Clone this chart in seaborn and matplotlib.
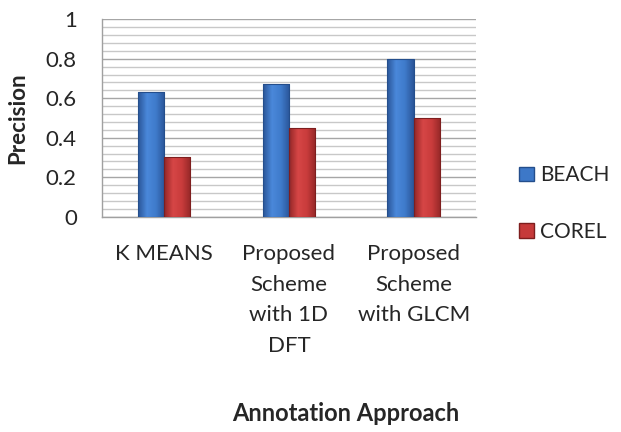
import pandas as pd
import numpy as np
import matplotlib
matplotlib.use("Agg")
import matplotlib.pyplot as plt
import seaborn as sns
from matplotlib.patches import Patch
from matplotlib.colors import LinearSegmentedColormap
from matplotlib.ticker import MultipleLocator

# Chart data
approaches = ["K MEANS", "Proposed\nScheme\nwith 1D\nDFT", "Proposed\nScheme\nwith GLCM"]
beach = [0.63, 0.67, 0.80]
corel = [0.30, 0.45, 0.50]
series = ["BEACH", "COREL"]
yticks = [0, 0.2, 0.4, 0.6, 0.8, 1]
ytick_labels = ["0", "0.2", "0.4", "0.6", "0.8", "1"]
colors = {"BEACH": "#3D78C8", "COREL": "#C63A3A"}
edges = {"BEACH": "#244E8C", "COREL": "#7E1E1E"}
# excel-ish shading across each bar: dark edge -> light middle -> dark edge
shades = {"BEACH": ["#2A5598", "#4A88DA", "#3F7BCB", "#2A5598"],
          "COREL": ["#942727", "#D64646", "#C93C3C", "#942727"]}

df = pd.DataFrame({
    "approach": approaches * 2,
    "precision": beach + corel,
    "dataset": ["BEACH"] * 3 + ["COREL"] * 3,
})

sns.set_style("white")
plt.rcParams['font.family'] = ['Lato', 'DejaVu Sans']

fig = plt.figure(figsize=(6.21, 4.32), dpi=100)
ax = fig.add_axes([0.164, 0.4984, 0.6025, 0.4569])

sns.barplot(data=df, x="approach", y="precision", hue="dataset",
            palette=colors, saturation=1, width=0.42, ax=ax, legend=False, zorder=3)

grad = np.linspace(0, 1, 64).reshape(1, -1)
for cont, s in zip(ax.containers, series):
    cmap = LinearSegmentedColormap.from_list(s, shades[s])
    for bar in cont:
        bar.set_edgecolor(edges[s])
        bar.set_linewidth(0.8)
        x0, w, h = bar.get_x(), bar.get_width(), bar.get_height()
        im = ax.imshow(grad, cmap=cmap, extent=[x0, x0 + w, 0, h],
                       aspect="auto", zorder=3.2, interpolation="bilinear")
        im.set_clip_path(bar)
        bar.set_zorder(3.4)
        bar.set_facecolor("none")

ax.set_ylim(0, 1)
ax.set_xlim(-0.5, 2.5)
ax.set_yticks(yticks, ytick_labels)
ax.yaxis.set_minor_locator(MultipleLocator(0.04))
ax.grid(axis="y", which="minor", color="#C8C8C8", linewidth=1.0, zorder=0)
ax.grid(axis="y", which="major", color="#A6A6A6", linewidth=1.0, zorder=0)
ax.set_axisbelow(True)

for side in ["top", "right"]:
    ax.spines[side].set_visible(False)
ax.spines["left"].set_color("#A0A0A0")
ax.spines["bottom"].set_color("#A0A0A0")
ax.spines["left"].set_linewidth(1.0)
ax.spines["bottom"].set_linewidth(1.0)

ax.tick_params(axis="y", which="major", length=6, width=1.0, color="#A0A0A0",
               direction="out", pad=12, labelsize=16)
ax.tick_params(axis="y", which="minor", length=0)
ax.tick_params(axis="x", length=0, pad=20, labelsize=16)
ax.set_xticks(range(len(approaches)))
ax.set_xticklabels(approaches, linespacing=1.65)

ax.set_xlabel("")
ax.set_ylabel("")
fig.text(0.029, 0.727, "Precision", rotation=90, ha="center", va="center",
         fontsize=16, fontweight="bold")

fig.text(0.556, 0.042, "Annotation Approach", ha="center", va="center",
         fontsize=17, fontweight="bold")

handles = [Patch(facecolor=colors[s], edgecolor=edges[s]) for s in series]
fig.legend(handles, series, loc="center left", bbox_to_anchor=(0.836, 0.529),
           frameon=False, fontsize=15, handlelength=0.7, handleheight=0.7,
           handletextpad=0.3, labelspacing=1.75, borderpad=0, borderaxespad=0)

fig.savefig("out.png", dpi=100)
